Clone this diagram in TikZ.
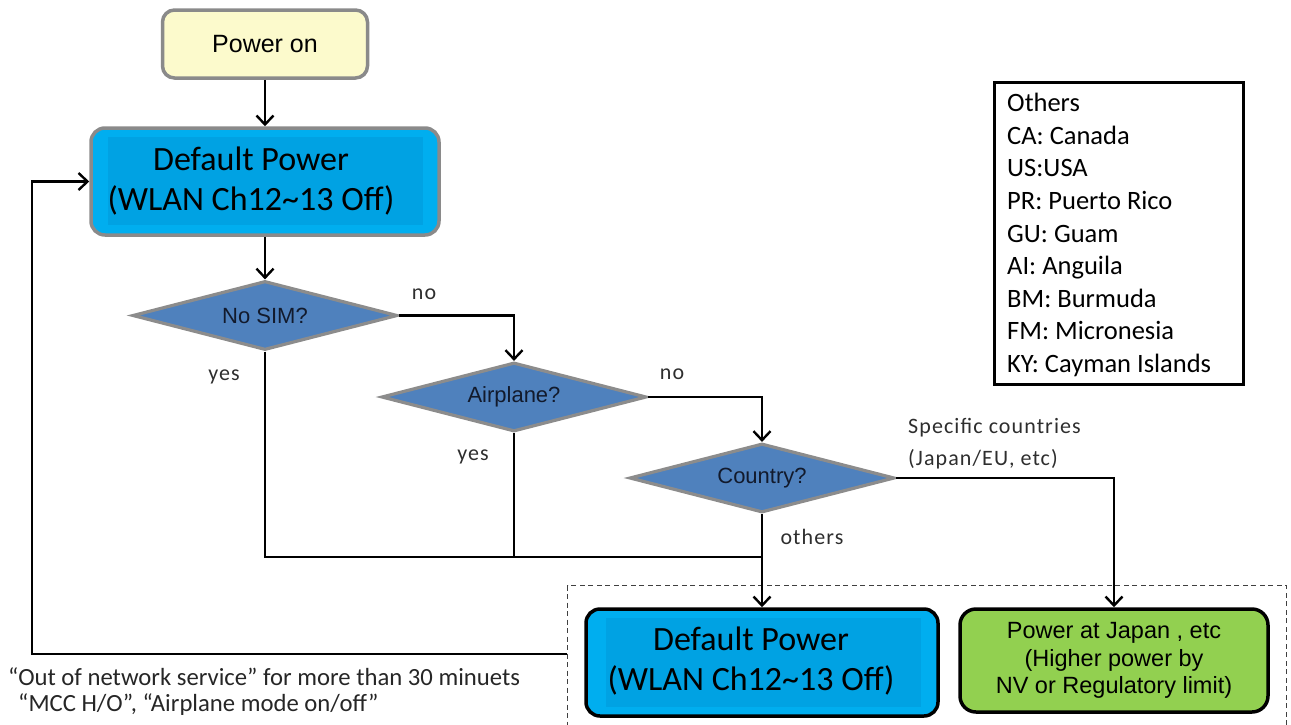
\documentclass[tikz,border=0pt]{standalone}
\usepackage{fontspec}
\setmainfont{Carlito}
\newfontfamily\arialf{Liberation Sans}
\newfontfamily\spacedf[LetterSpace=5]{Carlito}
\usetikzlibrary{shapes.geometric,arrows.meta}

\definecolor{startfill}{HTML}{FCFACC}
\definecolor{boxgray}{HTML}{8A8A8A}
\definecolor{powerblue}{HTML}{00AEEF}
\definecolor{powerinner}{HTML}{00A2E3}
\definecolor{decblue}{HTML}{4F81BD}
\definecolor{decgray}{HTML}{8C8C8C}
\definecolor{greenfill}{HTML}{92D050}
\definecolor{labelgray}{HTML}{2E2E2E}
\definecolor{dectext}{HTML}{121A2C}

\begin{document}
\begin{tikzpicture}[x=1pt,y=-1pt,
  startbox/.style={draw=boxgray, line width=3.5pt, fill=startfill,
    rounded corners=12pt, minimum width=205pt, minimum height=68pt,
    inner sep=0pt, font=\arialf\fontsize{25}{29}\selectfont},
  powerbox/.style={fill=powerblue, line width=3.5pt,
    rounded corners=14pt, inner sep=0pt},
  powertext/.style={align=center, inner sep=0pt,
    font=\fontsize{34}{40.5}\selectfont},
  decision/.style={diamond, aspect=3.84, draw=decgray, line width=3.2pt,
    fill=decblue, inner sep=0pt, minimum width=265pt, minimum height=69pt,
    text=dectext, font=\arialf\fontsize{22}{26}\selectfont},
  regionbox/.style={draw=black, line width=3.5pt, fill=greenfill,
    rounded corners=16pt, inner sep=0pt, align=center,
    font=\arialf\fontsize{23.5}{27.5}\selectfont},
  branchlabel/.style={inner sep=0pt, text=labelgray,
    font=\spacedf\fontsize{22}{32}\selectfont},
  flow/.style={line width=2.4pt,
    -{Straight Barb[length=9pt,width=17pt]}},
  plainflow/.style={line width=2.4pt},
  groupbox/.style={draw=black!75, line width=1.3pt, dash pattern=on 5pt off 3.5pt,
    inner sep=0pt, anchor=north west},
  legendbox/.style={draw=black, line width=3pt, inner sep=0pt},
  notetext/.style={inner sep=0pt, anchor=west, text=black!85,
    font=\fontsize{24.7}{28}\selectfont}
]
\useasboundingbox (0,0) rectangle (1291,724);

% --- start and default power ---
\node[startbox] (start) at (265,44) {Power on};

\node[powerbox, draw=boxgray, minimum width=348pt, minimum height=107pt]
  (dp) at (265,181.5) {};
\fill[powerinner] (108,137) rectangle (423,225);
\node[powertext] (dptext) at (251,181)
  {Default Power\\(WLAN Ch12\textasciitilde13 Off)};

% --- decisions ---
\node[decision] (nosim) at (265,315.5) {No SIM?};
\node[decision] (air) at (514,397) {Airplane?};
\node[decision] (ctry) at (762,478) {Country?};

% --- result group ---
\node[groupbox, minimum width=719pt, minimum height=160pt] (group) at (567,585) {};

\node[powerbox, draw=black, minimum width=352pt, minimum height=107pt]
  (dp2) at (762,662.5) {};
\fill[powerinner] (606,618) rectangle (921,707);
\node[powertext] (dp2text) at (751,661)
  {Default Power\\(WLAN Ch12\textasciitilde13 Off)};

\node[regionbox, minimum width=308pt, minimum height=103pt] (jp) at (1114,660.5)
  {Power at Japan , etc\\(Higher power by\\NV or Regulatory limit)};

% --- legend ---
\node[legendbox, minimum width=249pt, minimum height=302pt] (legend) at (1118.5,233) {};
\node[inner sep=0pt, anchor=north west, align=left,
  font=\fontsize{26.5}{32.6}\selectfont] (legendtext) at (1007,93)
  {Others\\CA: Canada\\US:USA\\PR: Puerto Rico\\GU: Guam\\AI: Anguila\\
   BM: Burmuda\\FM: Micronesia\\KY: Cayman Islands};

% --- connectors ---
\coordinate (join) at (762,557);
\coordinate (loopstart) at (567,654);
\coordinate (loopcorner) at (32,654);

\draw[flow] (start) -- (dp);
\draw[flow] (dp) -- (nosim);
\draw[flow] (nosim.east) -| (air.north);
\draw[flow] (air.east) -| (ctry.north);
\draw[flow] (ctry.east) -| (jp.north);
\draw[flow] (ctry.south) -- (dp2.north);
\draw[plainflow] (nosim.south) |- (join);
\draw[plainflow] (air.south) -- (air.south |- join);
\draw[flow] (loopstart) -- (loopcorner) |- (dp.west);

% --- branch labels ---
\node[branchlabel] (lnosimno) at (424,294) {no};
\node[branchlabel] (lnosimyes) at (224,377) {yes};
\node[branchlabel] (lairno) at (672,374) {no};
\node[branchlabel] (lairyes) at (473,457) {yes};
\node[branchlabel] (lothers) at (812,537) {others};
\node[branchlabel, anchor=west, align=left] (lspecific) at (908,444)
  {Specific countries\\(Japan/EU, etc)};

% --- return conditions ---
\node[notetext] (note1) at (8,677)
  {“Out of network service” for more than 30 minuets};
\node[notetext] (note2) at (18,705)
  {“MCC H/O”, “Airplane mode on/off”};
\end{tikzpicture}
\end{document}
